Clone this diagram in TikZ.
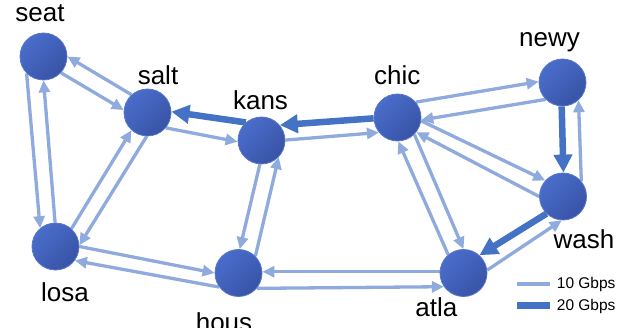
\documentclass[tikz,border=0pt]{standalone}
\usepackage{fontspec}
\setmainfont{Liberation Sans}
\usetikzlibrary{arrows.meta,backgrounds}
\definecolor{lite}{HTML}{8FAADC}
\definecolor{dark}{HTML}{4472C4}
\definecolor{ballA}{HTML}{4A6DCB}
\definecolor{ballB}{HTML}{3853A6}
\definecolor{ballE}{HTML}{5577CC}
\begin{document}
\begin{tikzpicture}[x=1pt,y=-1pt,
  city/.style={circle, minimum size=47pt, inner sep=0pt, draw=ballE, line width=0.8pt,
    top color=ballA, bottom color=ballB, shading angle=45},
  lbl/.style={anchor=base, font=\fontsize{26}{30}\selectfont, inner sep=0pt},
  leg/.style={anchor=base west, font=\fontsize{15.5}{18}\selectfont, inner sep=0pt},
  lk/.style={draw=lite, line width=3.3pt, -{Triangle[length=12pt,width=11pt]}},
  hv/.style={draw=dark, line width=6.5pt, -{Triangle[length=18pt,width=18pt]}}]
\useasboundingbox (0,0) rectangle (636,328);
% cities
\node[city] (seat) at (43.5,56.5) {};
\node[city] (salt) at (147.5,112.5) {};
\node[city] (kans) at (261.5,140.5) {};
\node[city] (chic) at (397.5,117.5) {};
\node[city] (newy) at (562.5,82.5) {};
\node[city] (wash) at (563,196.5) {};
\node[city] (losa) at (55.5,246.5) {};
\node[city] (hous) at (238.5,273) {};
\node[city] (atla) at (463.5,273) {};
% labels
\node[lbl] (tseat) at (40,21.7) {seat};
\node[lbl] (tsalt) at (158,85) {salt};
\node[lbl] (tkans) at (260.5,109.3) {kans};
\node[lbl] (tchic) at (397.2,85) {chic};
\node[lbl] (tnewy) at (549.5,46.7) {newy};
\node[lbl] (twash) at (584,248.3) {wash};
\node[lbl] (tlosa) at (65,301.7) {losa};
\node[lbl] (thous) at (224,331) {hous};
\node[lbl] (tatla) at (436.3,316) {atla};
% links
\begin{scope}[on background layer]
\draw[lk] (salt.132) -- (seat.0);
\draw[lk] (seat.-43) -- (salt.174);
\draw[lk] (seat.-135) -- (losa.130);
\draw[lk] (losa.91) -- (seat.-90);
\draw[lk] (losa.48) -- (salt.-132);
\draw[lk] (salt.-92) -- (losa.3);
\draw[hv] (kans.131) -- (salt.2);
\draw[lk] (salt.-40) -- (kans.183);
\draw[hv] (chic.182) -- (kans.40);
\draw[lk] (kans.1) -- (chic.219);
\draw[lk] (kans.-94) -- (hous.87);
\draw[lk] (hous.45) -- (kans.-44);
\draw[lk] (losa.0) -- (hous.180);
\draw[lk] (hous.216) -- (losa.-36);
\draw[lk] (atla.177) -- (hous.3);
\draw[lk] (hous.-40) -- (atla.-145);
\draw[lk] (chic.40) -- (newy.178);
\draw[lk] (newy.-135) -- (chic.-6);
\draw[hv] (newy.-92) -- (wash.89);
\draw[lk] (wash.40) -- (newy.-48);
\draw[lk] (chic.-8) -- (wash.138);
\draw[lk] (wash.180) -- (chic.-38);
\draw[lk] (atla.130) -- (chic.-88);
\draw[lk] (chic.-45) -- (atla.90);
\draw[hv] (wash.-134) -- (atla.48);
\draw[lk] (atla.7) -- (wash.-93);
\end{scope}
% legend
\coordinate (l1a) at (517,283.7); \coordinate (l1b) at (550,283.7);
\coordinate (l2a) at (517,305.7); \coordinate (l2b) at (550,305.7);
\draw[draw=lite, line width=4pt] (l1a) -- (l1b);
\draw[draw=dark, line width=6.7pt] (l2a) -- (l2b);
\node[leg] (t10) at (556.7,288.7) {10 Gbps};
\node[leg] (t20) at (556.7,310.7) {20 Gbps};
\end{tikzpicture}
\end{document}
